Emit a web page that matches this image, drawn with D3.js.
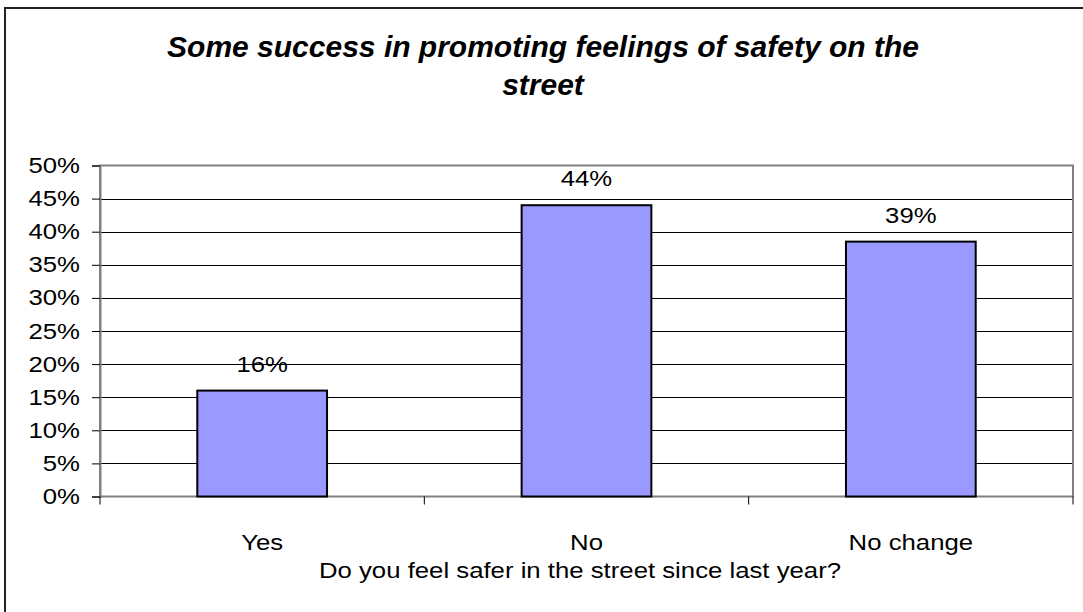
<!DOCTYPE html>
<html><head><meta charset="utf-8">
<script src="https://cdn.jsdelivr.net/npm/d3@7"></script>
<style>body{margin:0;background:#fff}svg{display:block;font-family:"Liberation Sans",Arial,sans-serif}</style>
</head><body><svg id="c" width="1083" height="612"></svg>
<script>
const categories = ["Yes", "No", "No change"];
const values = [0.16, 0.44, 0.385];
const valueLabels = ["16%", "44%", "39%"];
const yTicks = [0, 0.05, 0.1, 0.15, 0.2, 0.25, 0.3, 0.35, 0.4, 0.45, 0.5];
const titleLines = ["Some success in promoting feelings of safety on the", "street"];
const xTitle = "Do you feel safer in the street since last year?";

const svg = d3.select("#c");
const L = 100, R = 1073, T = 165.5, B = 496.5;
const SX = 1.17, FS = 22;

svg.append("rect").attr("x",5).attr("y",8).attr("width",1200).attr("height",800)
  .attr("fill","none").attr("stroke","#222").attr("stroke-width",2);

const x = d3.scaleBand().domain(categories).range([L,R]).paddingInner(0.6).paddingOuter(0.3);
const y = d3.scaleLinear().domain([0,0.5]).range([B,T]);

// gridlines
svg.append("g").selectAll("line").data(yTicks.filter(d=>d>0 && d<0.5)).join("line")
  .attr("x1",L).attr("x2",R).attr("y1",d=>Math.round(y(d))+0.5).attr("y2",d=>Math.round(y(d))+0.5)
  .attr("stroke","#000").attr("stroke-width",1);

// plot border
svg.append("rect").attr("x",L).attr("y",T).attr("width",R-L).attr("height",B-T)
  .attr("fill","none").attr("stroke","#808080").attr("stroke-width",2);

// bars
svg.append("g").selectAll("rect").data(categories).join("rect")
  .attr("x",d=>x(d)).attr("width",x.bandwidth())
  .attr("y",(d,i)=>y(values[i])).attr("height",(d,i)=>B-y(values[i]))
  .attr("fill","#9999FF").attr("stroke","#000").attr("stroke-width",2);

// y axis
const yAxis = d3.axisLeft(y).tickValues(yTicks).tickFormat(d3.format(".0%")).tickSize(8).tickPadding(20/SX-8);
const gy = svg.append("g").attr("transform",`translate(${L},0)`).call(yAxis);
gy.select(".domain").attr("stroke","#808080").attr("stroke-width",2);
gy.selectAll(".tick line").attr("stroke","#000");
gy.selectAll("text").attr("font-size",FS).attr("fill","#000").attr("transform",`scale(${SX},1)`)
  .attr("font-family","Liberation Sans, Arial, sans-serif");

// x axis
const xAxis = d3.axisBottom(x).tickSize(0).tickPadding(0);
const gx = svg.append("g").attr("transform",`translate(0,${B})`).call(xAxis);
gx.select(".domain").remove();
gx.selectAll("text").attr("font-size",FS).attr("fill","#000").attr("dy",null).attr("y",54)
  .attr("transform",`scale(${SX},1)`).attr("font-family","Liberation Sans, Arial, sans-serif");
// category boundary ticks
const bounds = [L].concat(categories.map(c=>x(c)+x.bandwidth()+x.step()*x.paddingInner()/2));
bounds[bounds.length-1] = R;
svg.append("g").selectAll("line").data(bounds).join("line")
  .attr("x1",d=>d).attr("x2",d=>d).attr("y1",B).attr("y2",B+8)
  .attr("stroke","#000").attr("stroke-width",1);

// value labels
svg.append("g").selectAll("text").data(categories).join("text")
  .attr("transform",(d,i)=>`translate(${x(d)+x.bandwidth()/2},${y(values[i])-19}) scale(${SX},1)`)
  .attr("text-anchor","middle").attr("font-size",FS).text((d,i)=>valueLabels[i]);

// titles
svg.append("g").selectAll("text").data(titleLines).join("text")
  .attr("x",543).attr("y",(d,i)=>57+i*38).attr("text-anchor","middle")
  .attr("font-size",30).attr("font-weight","bold").attr("font-style","italic").text(d=>d);
svg.append("text").attr("transform",`translate(580,578) scale(${SX},1)`).attr("text-anchor","middle")
  .attr("font-size",FS).text(xTitle);
</script></body></html>
